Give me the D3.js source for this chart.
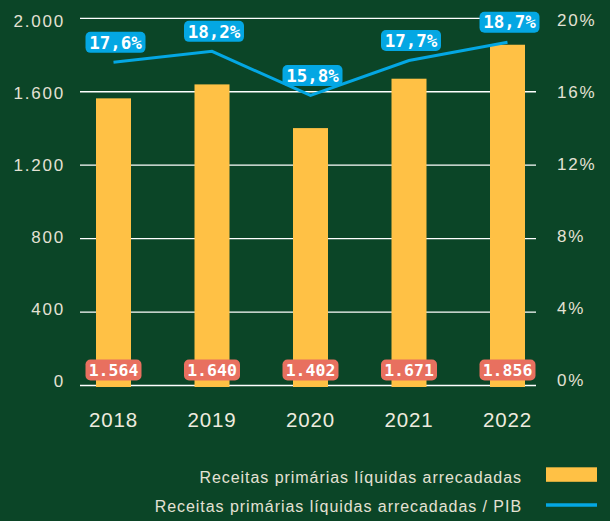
<!DOCTYPE html>
<html><head><meta charset="utf-8">
<script src="https://cdn.jsdelivr.net/npm/d3@7"></script>
<style>
html,body{margin:0;padding:0;background:#0b4527;}
svg{display:block;}
</style></head>
<body>
<svg id="chart" width="610" height="521"></svg>
<script>
const years = ["2018","2019","2020","2021","2022"];
const receitas = [1564, 1640, 1402, 1671, 1856];
const receitasLabels = ["1.564","1.640","1.402","1.671","1.856"];
const pctPIB = [17.6, 18.2, 15.8, 17.7, 18.7];
const pctLabels = ["17,6%","18,2%","15,8%","17,7%","18,7%"];
const leftTicks = [0, 400, 800, 1200, 1600, 2000];
const leftTickLabels = ["0","400","800","1.200","1.600","2.000"];
const rightTicks = [0, 4, 8, 12, 16, 20];
const rightTickLabels = ["0%","4%","8%","12%","16%","20%"];
const legendLabels = ["Receitas primárias líquidas arrecadadas","Receitas primárias líquidas arrecadadas / PIB"];

const YELLOW = "#ffc145", BLUE = "#04a7e3", SALMON = "#e8705f", TXT = "#e4e1d4";
const svg = d3.select("#chart");
svg.append("rect").attr("width",610).attr("height",521).attr("fill","#0b4527");

const x = d3.scaleBand().domain(years).range([64.25, 556.75]).paddingInner(0);
const y = d3.scaleLinear().domain([0,2000]).range([385.5,18.3]);
const yR = d3.scaleLinear().domain([0,20]).range([385.5,18.3]);
// tick label placement scales (labels are evenly spaced in the reference)
const yLab = d3.scaleLinear().domain([0,2000]).range([380.7,21.5]);
const yRLab = d3.scaleLinear().domain([0,20]).range([380.2,20.5]);
const cx = d => x(d) + x.bandwidth()/2;

// gridlines
svg.append("g").selectAll("line").data(leftTicks).join("line")
  .attr("x1",80).attr("x2",536)
  .attr("y1",d=>y(d)).attr("y2",d=>y(d))
  .attr("stroke","#ffffff").attr("stroke-width",1.3);

// left axis labels
svg.append("g").selectAll("text").data(leftTicks).join("text")
  .attr("x",65).attr("y",d=>yLab(d)).attr("dy","0.35em")
  .attr("text-anchor","end")
  .style("font-family","'Liberation Sans', Arial, sans-serif")
  .style("font-size","17px").style("letter-spacing","1.8px")
  .attr("fill",TXT)
  .text((d,i)=>leftTickLabels[i]);

// right axis labels
svg.append("g").selectAll("text").data(rightTicks).join("text")
  .attr("x",557).attr("y",d=>yRLab(d)).attr("dy","0.35em")
  .attr("text-anchor","start")
  .style("font-family","'Liberation Sans', Arial, sans-serif")
  .style("font-size","17px").style("letter-spacing","1.8px")
  .attr("fill",TXT)
  .text((d,i)=>rightTickLabels[i]);

// bars
const bw = 35;
svg.append("g").selectAll("rect").data(receitas).join("rect")
  .attr("x",(d,i)=>cx(years[i])-bw/2)
  .attr("width",bw)
  .attr("y",d=>y(d))
  .attr("height",d=>y(0)-y(d)+1.5)
  .attr("fill",YELLOW);

// line
const line = d3.line().x((d,i)=>cx(years[i])).y(d=>yR(d));
svg.append("path").datum(pctPIB).attr("d",line)
  .attr("fill","none").attr("stroke",BLUE).attr("stroke-width",3)
  .attr("stroke-linejoin","miter");

// pct labels
const pl = svg.append("g").selectAll("g").data(pctPIB).join("g")
  .attr("transform",(d,i)=>`translate(${cx(years[i])+2},${yR(d)-20})`);
pl.append("rect").attr("x",-30).attr("y",-10.5).attr("width",60).attr("height",21)
  .attr("rx",5).attr("fill",BLUE);
pl.append("text").attr("text-anchor","middle").attr("dy","0.36em")
  .style("font-family","'DejaVu Sans Mono', monospace").style("font-weight","bold")
  .style("font-size","17.5px").attr("fill","#ffffff")
  .text((d,i)=>pctLabels[i]);

// value labels
const vl = svg.append("g").selectAll("g").data(receitas).join("g")
  .attr("transform",(d,i)=>`translate(${cx(years[i])},370)`);
vl.append("rect").attr("x",-28).attr("y",-10.5).attr("width",56).attr("height",21)
  .attr("rx",5).attr("fill",SALMON);
vl.append("text").attr("text-anchor","middle").attr("dy","0.36em")
  .style("font-family","'DejaVu Sans Mono', monospace").style("font-weight","bold")
  .style("font-size","16.5px").attr("fill","#ffffff")
  .text((d,i)=>receitasLabels[i]);

// x axis labels
svg.append("g").selectAll("text").data(years).join("text")
  .attr("x",d=>cx(d)).attr("y",427)
  .attr("text-anchor","middle")
  .style("font-family","'Liberation Sans', Arial, sans-serif")
  .style("font-size","20.5px").style("letter-spacing","0.8px")
  .attr("fill","#eeebdf")
  .text(d=>d);

// legend
const lg = svg.append("g");
lg.selectAll("text").data(legendLabels).join("text")
  .attr("x",522).attr("y",(d,i)=>483+i*28.5)
  .attr("text-anchor","end")
  .style("font-family","'Liberation Sans', Arial, sans-serif")
  .style("font-size","16px").style("letter-spacing","0.95px")
  .attr("fill",TXT)
  .text(d=>d);
lg.append("rect").attr("x",546).attr("y",467.3).attr("width",51).attr("height",14.5).attr("fill",YELLOW);
lg.append("line").attr("x1",546).attr("x2",597).attr("y1",505).attr("y2",505)
  .attr("stroke",BLUE).attr("stroke-width",3.5);
</script>
</body></html>
